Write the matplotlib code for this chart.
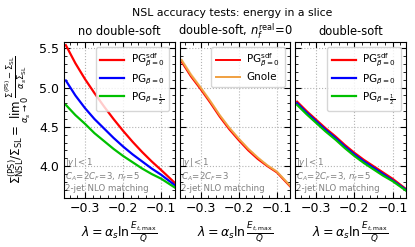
import numpy as np
import matplotlib.pyplot as plt
from matplotlib.ticker import MultipleLocator

# lambda values
lam = [-0.35, -0.325, -0.3, -0.275, -0.25, -0.225, -0.2, -0.175, -0.15, -0.125, -0.1, -0.065]

# panel 1: no double-soft
p1_sdf = [5.54, 5.31, 5.11, 4.93, 4.76, 4.60, 4.45, 4.31, 4.18, 4.06, 3.95, 3.79]
p1_b0 = [5.09, 4.90, 4.74, 4.60, 4.48, 4.36, 4.25, 4.15, 4.06, 3.97, 3.89, 3.76]
p1_bh = [4.78, 4.65, 4.54, 4.42, 4.32, 4.22, 4.13, 4.05, 3.97, 3.90, 3.84, 3.73]

# panel 2: double-soft, nf_real = 0
p2_sdf = [5.33, 5.14, 4.98, 4.81, 4.63, 4.47, 4.33, 4.20, 4.09, 4.00, 3.92, 3.74]
p2_gnole = [5.35, 5.16, 5.00, 4.83, 4.65, 4.49, 4.35, 4.22, 4.11, 4.01, 3.93, 3.75]
p2_gnole_err = [0.03, 0.03, 0.025, 0.025, 0.02, 0.02, 0.02, 0.02, 0.02, 0.02, 0.02, 0.02]

# panel 3: double-soft
p3_sdf = [4.82, 4.70, 4.59, 4.48, 4.38, 4.27, 4.17, 4.08, 4.00, 3.92, 3.84, 3.71]
p3_b0 = [4.80, 4.68, 4.57, 4.46, 4.36, 4.25, 4.15, 4.06, 3.98, 3.90, 3.82, 3.70]
p3_bh = [4.78, 4.66, 4.55, 4.44, 4.34, 4.23, 4.13, 4.04, 3.96, 3.88, 3.81, 3.69]

titles = ["no double-soft", r"double-soft, $n_f^{\rm real}\!=\!0$", "double-soft"]
lab_sdf = r"PG$^{\rm sdf}_{\beta=0}$"
lab_b0 = r"PG$_{\beta=0}$"
lab_bh = r"PG$_{\beta=\frac{1}{2}}$"
notes = [r"$|y|<1$" + "\n" + r"$C_A\!=\!2C_F\!=\!3,\, n_f\!=\!5$" + "\n2-jet NLO matching",
         r"$|y|<1$" + "\n" + r"$C_A\!=\!2C_F\!=\!3$" + "\n2-jet NLO matching",
         r"$|y|<1$" + "\n" + r"$C_A\!=\!2C_F\!=\!3,\, n_f\!=\!5$" + "\n2-jet NLO matching"]

green = "#00c000"
orange = "#f0a040"

fig, axes = plt.subplots(1, 3, figsize=(4.15, 2.47), dpi=100, sharey=True)
fig.subplots_adjust(left=0.154, right=0.978, bottom=0.2, top=0.83, wspace=0.045)

ax = axes[0]
ax.plot(lam, p1_sdf, color="red", lw=1.6, label=lab_sdf)
ax.plot(lam, p1_b0, color="blue", lw=1.6, label=lab_b0)
ax.plot(lam, p1_bh, color=green, lw=1.6, label=lab_bh)

ax = axes[1]
g = np.array(p2_gnole)
e = np.array(p2_gnole_err)
ax.fill_between(lam, g - e, g + e, color=orange, alpha=0.4, lw=0)
ax.plot(lam, p2_sdf, color="red", lw=1.4, label=lab_sdf)
ax.plot(lam, p2_gnole, color=orange, lw=1.4, label="Gnole")

ax = axes[2]
ax.plot(lam, p3_sdf, color="red", lw=1.6, label=lab_sdf)
ax.plot(lam, p3_b0, color="blue", lw=1.6, label=lab_b0)
ax.plot(lam, p3_bh, color=green, lw=1.6, label=lab_bh)

for i, ax in enumerate(axes):
    ax.set_xlim(-0.355, -0.065)
    ax.set_ylim(3.6, 5.58)
    ax.xaxis.set_major_locator(MultipleLocator(0.1))
    ax.xaxis.set_minor_locator(MultipleLocator(0.02))
    ax.yaxis.set_major_locator(MultipleLocator(0.5))
    ax.yaxis.set_minor_locator(MultipleLocator(0.1))
    ax.tick_params(which="both", direction="in", top=True, right=True, labelsize=9)
    ax.tick_params(which="major", length=4)
    ax.tick_params(which="minor", length=2)
    ax.grid(True, ls=":", color="0.7", lw=0.8)
    ax.set_title(titles[i], fontsize=8.3, pad=5)
    ax.set_xlabel(r"$\lambda = \alpha_s \ln\frac{E_{t,\max}}{Q}$", fontsize=9)
    ax.legend(loc="upper right", fontsize=7.5, handlelength=2.3, borderpad=0.45,
              labelspacing=0.3, handletextpad=0.6, fancybox=True)
    ax.text(0.01, 0.03, notes[i], transform=ax.transAxes, fontsize=6.2,
            color="0.5", va="bottom", ha="left", linespacing=1.15, zorder=1.5,
            bbox=dict(facecolor="white", edgecolor="none", pad=0.5, alpha=0.8))

axes[0].set_ylabel(r"$\Sigma^{\rm (PS)}_{\rm NSL}/\Sigma_{\rm SL} = \lim_{\alpha_s\to 0}"
                   r"\frac{\Sigma^{\rm (PS)}-\Sigma_{\rm SL}}{\alpha_s\Sigma_{\rm SL}}$",
                   fontsize=8.6)
fig.suptitle("NSL accuracy tests: energy in a slice", fontsize=7.8, x=0.56, y=0.968)

fig.savefig("out.png", dpi=100)
